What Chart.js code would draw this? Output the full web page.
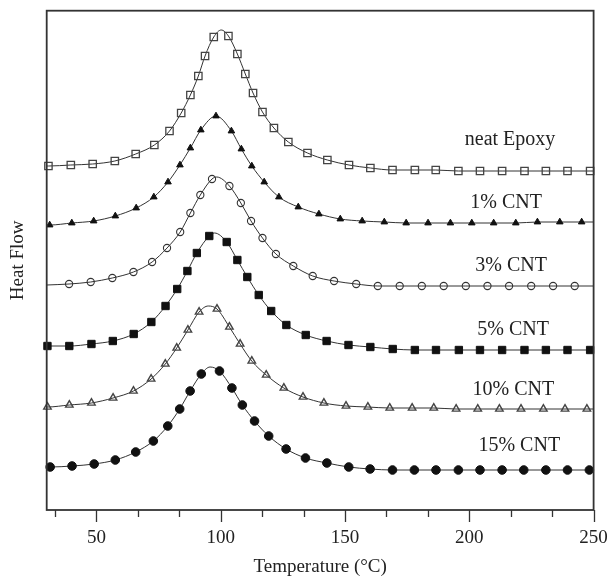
<!DOCTYPE html>
<html>
<head>
<meta charset="utf-8">
<script src="https://cdn.jsdelivr.net/npm/chart.js@4.4.0/dist/chart.umd.min.js"></script>
<style>
html, body { margin: 0; padding: 0; background: #fff; }
</style>
</head>
<body>
<canvas id="canvas01" width="609" height="582"></canvas>
<script>

// temperature axis
const xMin = 30, xMax = 250;
const majorTicks = [50, 100, 150, 200, 250];
const minorTicks = [33.33, 66.67, 83.33, 116.67, 133.33, 166.67, 183.33, 216.67, 233.33];

// neat Epoxy (open squares)
const tNeat = [30.7, 39.7, 48.5, 57.4, 65.8, 73.3, 79.4, 84.1, 87.8, 91.0, 93.7, 97.2, 103.1, 106.7, 109.9, 113.0, 116.8, 121.4, 127.2, 134.9, 142.9, 151.6, 160.2, 169.1, 178.1, 186.5, 195.6, 204.3, 213.2, 222.2, 230.8, 239.5, 248.6];
const fNeat = [34.9, 35.0, 35.1, 35.4, 36.1, 37.0, 38.4, 40.2, 42.0, 43.9, 45.9, 47.8, 47.9, 46.1, 44.1, 42.2, 40.3, 38.7, 37.3, 36.2, 35.5, 35.0, 34.7, 34.5, 34.5, 34.5, 34.4, 34.4, 34.4, 34.4, 34.4, 34.4, 34.4];

// 1% CNT (filled triangles)
const t1 = [31.2, 40.1, 48.9, 57.6, 66.0, 73.1, 78.8, 83.6, 87.8, 92.0, 98.1, 104.3, 108.3, 112.5, 117.5, 123.4, 131.2, 139.5, 148.1, 156.9, 165.8, 174.6, 183.4, 192.4, 201.0, 209.8, 218.7, 227.4, 236.4, 245.2];
const f1 = [29.0, 29.2, 29.4, 29.9, 30.7, 31.8, 33.3, 35.0, 36.7, 38.5, 39.9, 38.4, 36.6, 34.9, 33.3, 31.8, 30.8, 30.1, 29.6, 29.4, 29.3, 29.2, 29.2, 29.2, 29.2, 29.2, 29.2, 29.3, 29.3, 29.3];

// 3% CNT (open circles)
const t3 = [39.0, 47.7, 56.4, 64.9, 72.4, 78.4, 83.7, 87.8, 91.8, 96.5, 103.5, 108.1, 112.2, 116.8, 122.2, 129.2, 137.0, 145.6, 154.5, 163.2, 172.0, 180.9, 189.7, 198.6, 207.3, 216.0, 224.9, 233.7, 242.4];
const f3 = [23.1, 23.3, 23.7, 24.3, 25.3, 26.7, 28.3, 30.2, 32.0, 33.6, 32.9, 31.2, 29.4, 27.7, 26.1, 24.9, 23.9, 23.4, 23.1, 22.9, 22.9, 22.9, 22.9, 22.9, 22.9, 22.9, 22.9, 22.9, 22.9];

// 5% CNT (filled squares)
const t5 = [30.3, 39.1, 48.0, 56.6, 65.0, 72.1, 77.8, 82.5, 86.6, 90.4, 95.4, 102.4, 106.7, 110.7, 115.3, 120.3, 126.4, 134.2, 142.6, 151.4, 160.2, 169.2, 178.1, 186.6, 195.8, 204.3, 213.2, 222.2, 230.8, 239.5, 248.6];
const f5 = [16.9, 16.9, 17.1, 17.4, 18.1, 19.3, 20.9, 22.6, 24.4, 26.2, 27.9, 27.3, 25.5, 23.8, 22.0, 20.4, 19.0, 18.0, 17.4, 17.0, 16.8, 16.6, 16.5, 16.5, 16.5, 16.5, 16.5, 16.5, 16.5, 16.5, 16.5];

// 10% CNT (open triangles)
const t10 = [30.3, 39.1, 48.0, 56.7, 64.9, 72.0, 77.7, 82.3, 86.8, 91.3, 98.5, 103.5, 107.8, 112.5, 118.3, 125.4, 133.1, 141.5, 150.4, 159.2, 168.0, 177.0, 185.7, 194.7, 203.4, 212.1, 220.8, 229.8, 238.5, 247.3];
const f10 = [10.8, 11.0, 11.2, 11.7, 12.4, 13.6, 15.1, 16.7, 18.5, 20.3, 20.6, 18.8, 17.1, 15.4, 14.0, 12.7, 11.8, 11.2, 10.9, 10.8, 10.7, 10.7, 10.7, 10.6, 10.6, 10.6, 10.6, 10.6, 10.6, 10.6];

// 15% CNT (filled circles)
const t15 = [31.4, 40.2, 49.1, 57.6, 65.8, 72.9, 78.7, 83.5, 87.7, 92.2, 99.5, 104.5, 108.7, 113.6, 119.3, 126.3, 134.1, 142.7, 151.5, 160.1, 169.1, 177.9, 186.6, 195.6, 204.3, 213.2, 221.9, 230.8, 239.5, 248.3];
const f15 = [4.8, 4.9, 5.1, 5.5, 6.3, 7.4, 8.9, 10.6, 12.4, 14.1, 14.4, 12.7, 11.0, 9.4, 7.9, 6.6, 5.7, 5.2, 4.8, 4.6, 4.5, 4.5, 4.5, 4.5, 4.5, 4.5, 4.5, 4.5, 4.5, 4.5];

// curve apex (between markers) and values at the axis ends, per series
const peakT = [100.2, null, 98.4, 97.5, 95.0, 95.7];
const peakF = [48.5, null, 33.8, 28.2, 20.9, 14.8];
const startF = [34.9, 29.0, 23.0, 16.9, 10.8, 4.8];
const endF = [34.4, 29.3, 22.9, 16.5, 10.6, 4.5];

// curve labels
const labelText = ['neat Epoxy', '1% CNT', '3% CNT', '5% CNT', '10% CNT', '15% CNT'];
const labelT = [216.4, 214.8, 216.8, 217.6, 217.7, 220.1];
const labelF = [37.5, 31.2, 24.9, 18.5, 12.5, 6.9];

const serieT = [tNeat, t1, t3, t5, t10, t15];
const serieF = [fNeat, f1, f3, f5, f10, f15];

const SERIF = '"Liberation Serif", "DejaVu Serif", serif';

const markStyle = [
	{ pointStyle: 'rect', radius: 5.2, bg: 'rgba(0,0,0,0)', bc: '#444', bw: 1.3 },
	{ pointStyle: 'triangle', radius: 3.8, bg: '#111', bc: '#111', bw: 1 },
	{ pointStyle: 'circle', radius: 3.6, bg: 'rgba(0,0,0,0)', bc: '#333', bw: 1.1 },
	{ pointStyle: 'rect', radius: 5.2, bg: '#111', bc: '#111', bw: 1 },
	{ pointStyle: 'triangle', radius: 4.3, bg: 'rgba(0,0,0,0)', bc: '#444', bw: 1.4 },
	{ pointStyle: 'circle', radius: 4.3, bg: '#111', bc: '#111', bw: 1 }
];

function buildLine(k) {
	var pts = serieT[k].map(function (t, i) { return { x: t, y: serieF[k][i] }; });
	pts.push({ x: xMin, y: startF[k] });
	pts.push({ x: xMax, y: endF[k] });
	if (peakT[k] != null) pts.push({ x: peakT[k], y: peakF[k] });
	pts.sort(function (a, b) { return a.x - b.x; });
	return pts;
}

var datasets = [];
for (var k = 0; k < serieT.length; k++) {
	datasets.push({
		label: labelText[k] + ' curve',
		data: buildLine(k),
		showLine: true,
		borderColor: '#333',
		borderWidth: 1,
		cubicInterpolationMode: 'monotone',
		pointRadius: 0,
		order: 2
	});
	var st = markStyle[k];
	datasets.push({
		label: labelText[k],
		data: serieT[k].map(function (t, i) { return { x: t, y: serieF[k][i] }; }),
		showLine: false,
		pointStyle: st.pointStyle,
		pointRadius: st.radius,
		pointBackgroundColor: st.bg,
		pointBorderColor: st.bc,
		pointBorderWidth: st.bw,
		clip: false,
		order: 1
	});
}

const frame_axes = {
	id: 'frame_axes',
	afterDatasetsDraw(chart, args, options) {
		const { ctx, chartArea: { left, top, right, bottom }, scales: { x, y } } = chart;

		ctx.save();
		ctx.strokeStyle = '#333';
		ctx.lineWidth = 1.8;
		ctx.strokeRect(left, top, right - left, bottom - top);

		ctx.lineWidth = 1.3;
		ctx.beginPath();
		majorTicks.forEach(function (v) {
			var px = Math.round(x.getPixelForValue(v)) + 0.5;
			ctx.moveTo(px, bottom);
			ctx.lineTo(px, bottom + 12);
		});
		minorTicks.forEach(function (v) {
			var px = Math.round(x.getPixelForValue(v)) + 0.5;
			ctx.moveTo(px, bottom);
			ctx.lineTo(px, bottom + 7);
		});
		ctx.stroke();

		ctx.fillStyle = '#222';
		ctx.font = '20px ' + SERIF;
		ctx.textAlign = 'center';
		ctx.textBaseline = 'middle';
		for (var i = 0; i < labelText.length; i++) {
			ctx.fillText(labelText[i], x.getPixelForValue(labelT[i]), y.getPixelForValue(labelF[i]));
		}
		ctx.restore();
	}
};

var config01 = {
	type: 'scatter',
	data: { datasets: datasets },
	options: {
		responsive: false,
		animation: false,
		layout: {
			padding: { left: 0, right: 15.4, top: 10.7, bottom: 0 }
		},
		plugins: {
			legend: { display: false },
			tooltip: { enabled: false }
		},
		scales: {
			x: {
				type: 'linear',
				min: xMin,
				max: xMax,
				afterBuildTicks: function (scale) {
					scale.ticks = majorTicks.map(function (v) { return { value: v }; });
				},
				afterFit: function (scale) {
					scale.height = 72;
					scale.paddingLeft = 0;
					scale.paddingRight = 0;
				},
				grid: { display: false, drawTicks: false },
				border: { display: false },
				ticks: {
					color: '#222',
					padding: 17,
					maxRotation: 0,
					font: { family: SERIF, size: 19 }
				},
				title: {
					display: true,
					text: 'Temperature (°C)',
					color: '#222',
					font: { family: SERIF, size: 19 },
					padding: { top: 0, bottom: 4 }
				}
			},
			y: {
				type: 'linear',
				min: 0.5,
				max: 50.43,
				afterFit: function (scale) { scale.width = 46.7; },
				grid: { display: false, drawTicks: false },
				border: { display: false },
				ticks: { display: false },
				title: {
					display: true,
					text: 'Heat Flow',
					color: '#222',
					font: { family: SERIF, size: 19 },
					padding: { top: 7, bottom: 0 }
				}
			}
		}
	},
	plugins: [frame_axes]
};

var ctx01 = document.getElementById('canvas01').getContext('2d');
var graf01 = new Chart(ctx01, config01);

</script>
</body>
</html>
